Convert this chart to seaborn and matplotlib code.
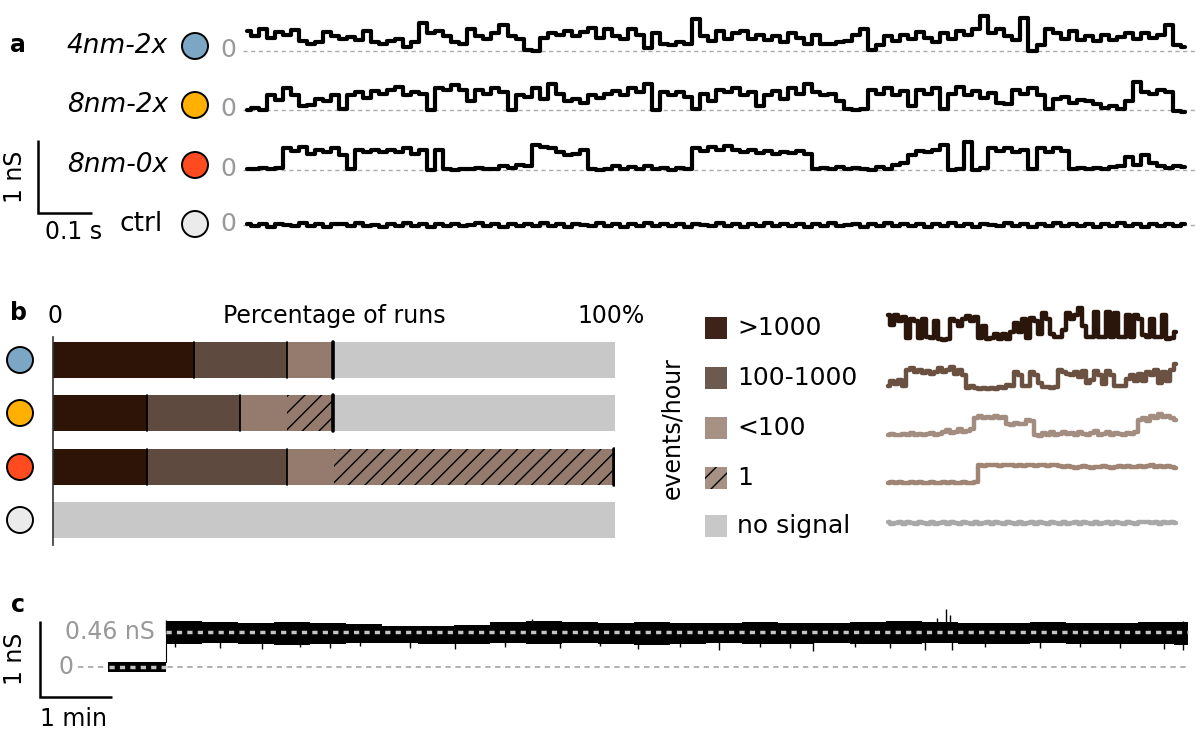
import numpy as np
import matplotlib.pyplot as plt
from matplotlib.patches import Circle, Rectangle
import seaborn as sns

W, H = 1196, 731

# ---------------- panel a : example traces (nS), one value per ~8 px bin
a_labels = ['4nm-2x', '8nm-2x', '8nm-0x', 'ctrl']
a_colors = ['#7ba7c4', '#ffb000', '#ff4b1f', '#ebebeb']
a_duration = 1.745  # seconds shown

trace_4nm_2x = [0.27, 0.20, 0.30, 0.18, 0.26, 0.22, 0.29, 0.14, 0.10, 0.13,
                0.26, 0.20, 0.16, 0.19, 0.15, 0.28, 0.12, 0.10, 0.14, 0.17,
                0.06, 0.12, 0.38, 0.24, 0.28, 0.20, 0.12, 0.10, 0.30, 0.20,
                0.17, 0.24, 0.35, 0.20, 0.17, 0.02, 0.00, 0.18, 0.25, 0.22,
                0.28, 0.20, 0.26, 0.32, 0.18, 0.30, 0.20, 0.17, 0.30, 0.22,
                0.04, 0.25, 0.10, 0.08, 0.12, 0.10, 0.44, 0.20, 0.14, 0.27,
                0.17, 0.24, 0.28, 0.16, 0.22, 0.15, 0.20, 0.13, 0.24, 0.18,
                0.10, 0.22, 0.10, 0.09, 0.12, 0.14, 0.22, 0.30, 0.02, 0.08,
                0.20, 0.14, 0.22, 0.16, 0.26, 0.18, 0.12, 0.24, 0.17, 0.27,
                0.22, 0.30, 0.48, 0.25, 0.30, 0.20, 0.15, 0.45, 0.00, 0.08,
                0.30, 0.24, 0.16, 0.28, 0.15, 0.20, 0.14, 0.22, 0.15, 0.19,
                0.25, 0.16, 0.24, 0.18, 0.22, 0.35, 0.08, 0.06]
trace_8nm_2x = [0.00, 0.03, 0.00, 0.20, 0.14, 0.30, 0.20, 0.05, 0.07, 0.15,
                0.12, 0.20, 0.02, 0.20, 0.24, 0.16, 0.26, 0.22, 0.28, 0.32,
                0.20, 0.25, 0.22, 0.00, 0.30, 0.27, 0.34, 0.28, 0.12, 0.28,
                0.22, 0.30, 0.24, 0.00, 0.20, 0.18, 0.30, 0.15, 0.35, 0.22,
                0.12, 0.15, 0.10, 0.20, 0.16, 0.22, 0.26, 0.20, 0.30, 0.25,
                0.35, 0.00, 0.25, 0.20, 0.24, 0.18, 0.02, 0.22, 0.12, 0.28,
                0.25, 0.30, 0.20, 0.24, 0.06, 0.20, 0.26, 0.15, 0.30, 0.22,
                0.35, 0.25, 0.20, 0.22, 0.12, 0.02, 0.00, 0.02, 0.28, 0.22,
                0.30, 0.20, 0.26, 0.05, 0.28, 0.22, 0.30, 0.02, 0.22, 0.32,
                0.20, 0.26, 0.17, 0.23, 0.10, 0.08, 0.27, 0.22, 0.30, 0.20,
                0.02, 0.15, 0.18, 0.10, 0.14, 0.12, 0.08, 0.03, 0.05, 0.02,
                0.12, 0.38, 0.25, 0.22, 0.28, 0.24, -0.02, -0.03]
trace_8nm_0x = [0.02, 0.01, 0.03, 0.02, 0.03, 0.30, 0.26, 0.32, 0.22, 0.28,
                0.24, 0.30, 0.20, 0.02, 0.28, 0.25, 0.27, 0.24, 0.28, 0.25,
                0.30, 0.22, 0.28, 0.00, 0.28, 0.02, 0.00, 0.02, 0.01, 0.03,
                0.01, 0.02, 0.05, 0.03, 0.07, 0.05, 0.34, 0.32, 0.30, 0.25,
                0.20, 0.22, 0.28, 0.02, 0.00, 0.02, 0.05, 0.02, 0.04, 0.02,
                0.05, 0.01, 0.03, 0.00, 0.03, 0.02, 0.30, 0.26, 0.32, 0.28,
                0.33, 0.27, 0.24, 0.27, 0.23, 0.26, 0.22, 0.25, 0.23, 0.26,
                0.22, 0.02, 0.03, 0.01, 0.04, 0.02, 0.03, 0.01, 0.00, 0.04,
                0.02, 0.07, 0.10, 0.20, 0.26, 0.25, 0.28, 0.34, 0.00, 0.02,
                0.38, 0.00, 0.03, 0.30, 0.26, 0.30, 0.25, 0.28, 0.02, 0.30,
                0.24, 0.30, 0.26, 0.02, 0.03, 0.01, 0.03, 0.02, 0.04, 0.06,
                0.18, 0.07, 0.20, 0.09, 0.06, 0.03, 0.05, 0.04]
trace_ctrl = [0.02, -0.02, 0.01, -0.03, 0.02, 0.00, -0.02, 0.03, -0.01, 0.02,
              -0.03, 0.01, 0.02, -0.02, 0.03, -0.01, 0.00, -0.03, 0.02, -0.01,
              0.03, -0.02, 0.01, -0.03, 0.02, -0.01, 0.02, -0.02, 0.00, 0.03,
              -0.02, 0.01, -0.03, 0.02, -0.01, 0.02, -0.02, 0.03, -0.01, 0.01,
              -0.03, 0.02, 0.00, -0.02, 0.03, -0.01, 0.02, -0.03, 0.01, -0.02,
              0.03, -0.01, 0.02, -0.02, 0.01, -0.03, 0.02, 0.00, -0.02, 0.03,
              -0.01, 0.02, -0.03, 0.01, -0.02, 0.03, -0.01, 0.02, -0.02, 0.01,
              -0.03, 0.02, -0.01, 0.03, -0.02, 0.00, 0.02, -0.03, 0.01, -0.02,
              0.03, -0.01, 0.02, -0.02, 0.01, -0.03, 0.02, -0.01, 0.03, -0.02,
              0.01, -0.03, 0.02, 0.00, -0.02, 0.03, -0.01, 0.02, -0.03, 0.01,
              -0.02, 0.03, -0.01, 0.02, -0.02, 0.01, -0.03, 0.02, -0.01, 0.03,
              -0.02, 0.01, -0.03, 0.02, -0.01, 0.02, -0.02, 0.01]

# ---------------- panel b : outcome of 12 runs per condition
b_categories = ['>1000', '100-1000', '<100', '1', 'no signal']
runs_4nm_2x = [3, 2, 1, 0, 6]
runs_8nm_2x = [2, 2, 1, 1, 6]
runs_8nm_0x = [2, 3, 1, 6, 0]
runs_ctrl = [0, 0, 0, 0, 12]

# legend example traces (nS), ~4 px bins
mini_high = [0.35, 0.22, 0.36, 0.28, 0.33, 0.04, 0.30, 0.27, 0.04, 0.30,
             0.05, 0.04, 0.28, 0.03, 0.02, 0.03, 0.30, 0.27, 0.20, 0.30,
             0.34, 0.28, 0.33, 0.04, 0.20, 0.03, 0.04, 0.10, 0.03, 0.10,
             0.03, 0.12, 0.25, 0.12, 0.30, 0.04, 0.32, 0.28, 0.10, 0.38,
             0.30, 0.10, 0.06, 0.05, 0.15, 0.38, 0.30, 0.35, 0.45, 0.20,
             0.05, 0.06, 0.40, 0.05, 0.06, 0.40, 0.05, 0.38, 0.05, 0.06,
             0.35, 0.05, 0.35, 0.30, 0.08, 0.06, 0.30, 0.05, 0.05, 0.35,
             0.03, 0.04, 0.12]
mini_mid = [0.05, 0.12, 0.08, 0.14, 0.05, 0.27, 0.30, 0.25, 0.28, 0.23,
            0.26, 0.22, 0.25, 0.30, 0.24, 0.27, 0.32, 0.22, 0.28, 0.20,
            0.03, 0.06, 0.03, 0.02, 0.03, 0.02, 0.03, 0.02, 0.04, 0.03,
            0.07, 0.05, 0.24, 0.20, 0.06, 0.05, 0.24, 0.20, 0.10, 0.04,
            0.04, 0.03, 0.04, 0.27, 0.24, 0.22, 0.20, 0.24, 0.18, 0.26,
            0.10, 0.14, 0.26, 0.20, 0.08, 0.26, 0.20, 0.05, 0.06, 0.05,
            0.15, 0.20, 0.12, 0.22, 0.12, 0.25, 0.20, 0.27, 0.10, 0.25,
            0.12, 0.28, 0.36]
mini_low = [0.02, 0.03, 0.01, 0.02, 0.03, 0.02, 0.04, 0.02, 0.03, 0.01,
            0.03, 0.04, 0.02, 0.03, 0.05, 0.08, 0.04, 0.06, 0.10, 0.05,
            0.07, 0.10, 0.25, 0.27, 0.24, 0.26, 0.25, 0.28, 0.24, 0.26,
            0.17, 0.15, 0.18, 0.16, 0.17, 0.22, 0.20, 0.02, 0.00, 0.04,
            0.02, 0.05, 0.02, 0.03, 0.06, 0.03, 0.04, 0.02, 0.05, 0.03,
            0.02, 0.04, 0.07, 0.02, 0.03, 0.05, 0.02, 0.04, 0.03, 0.02,
            0.04, 0.03, 0.05, 0.22, 0.25, 0.20, 0.27, 0.24, 0.30, 0.26,
            0.28, 0.25, 0.22]
mini_one = [0.00, 0.01, 0.00, 0.01, 0.00, 0.00, 0.01, 0.00, 0.01, 0.00,
            0.00, 0.01, 0.00, 0.00, 0.01, 0.00, 0.01, 0.00, 0.00, 0.01,
            0.00, 0.00, 0.01, 0.24, 0.23, 0.24, 0.25, 0.24, 0.23, 0.24,
            0.25, 0.24, 0.23, 0.24, 0.23, 0.25, 0.24, 0.23, 0.24, 0.25,
            0.23, 0.24, 0.24, 0.23, 0.22, 0.23, 0.22, 0.21, 0.22, 0.23,
            0.22, 0.21, 0.22, 0.22, 0.23, 0.22, 0.21, 0.22, 0.23, 0.22,
            0.23, 0.22, 0.22, 0.23, 0.22, 0.23, 0.24, 0.22, 0.23, 0.22,
            0.23, 0.22, 0.21]
mini_none = [0.01, -0.01, 0.00, 0.01, -0.01, 0.01, 0.00, -0.01, 0.01, 0.00,
             -0.01, 0.01, -0.01, 0.00, 0.01, -0.01, 0.01, 0.00, -0.01, 0.01,
             0.00, -0.01, 0.01, -0.01, 0.00, 0.01, -0.01, 0.01, 0.00, -0.01,
             0.01, 0.00, -0.01, 0.01, -0.01, 0.00, 0.01, -0.01, 0.01, 0.00,
             -0.01, 0.01, 0.00, -0.01, 0.01, -0.01, 0.00, 0.01, -0.01, 0.01,
             0.00, -0.01, 0.01, -0.01, 0.00, 0.01, -0.01, 0.01, 0.00, -0.01,
             0.01, 0.00, -0.01, 0.01, 0.02, 0.01, 0.00, 0.01, -0.01, 0.01,
             0.00, 0.01, 0.00]

# ---------------- panel c : long recording, envelope per 0.5 min (nS)
c_open_level = 0.46
c_step_time = 0.8      # min
c_end_time = 15.0      # min
c_closed_upper = 0.065
c_closed_lower = -0.065
c_upper = [0.60, 0.59, 0.58, 0.59, 0.58, 0.57, 0.54, 0.54, 0.55, 0.59,
           0.60, 0.59, 0.58, 0.59, 0.58, 0.58, 0.59, 0.58, 0.58, 0.59,
           0.60, 0.59, 0.58, 0.58, 0.59, 0.58, 0.58, 0.59, 0.59]
c_lower = [0.30, 0.31, 0.30, 0.29, 0.30, 0.31, 0.31, 0.30, 0.30, 0.31,
           0.30, 0.31, 0.30, 0.29, 0.30, 0.31, 0.30, 0.30, 0.31, 0.30,
           0.30, 0.31, 0.30, 0.30, 0.31, 0.30, 0.30, 0.30, 0.29]
c_down_t = [0.93, 1.56, 2.14, 2.67, 3.08, 3.50, 4.19, 4.82, 5.51, 6.28,
            6.83, 7.36, 7.94, 8.49, 9.06, 9.47, 9.79, 10.38, 10.86, 11.35,
            11.72, 12.18, 12.94, 13.50, 14.06, 14.67, 14.93]
c_down_v = [0.26, 0.25, 0.24, 0.26, 0.25, 0.27, 0.25, 0.24, 0.26, 0.25,
            0.27, 0.24, 0.26, 0.22, 0.26, 0.25, 0.21, 0.26, 0.25, 0.23,
            0.22, 0.26, 0.25, 0.26, 0.25, 0.24, 0.22]
c_up_t = [0.81, 5.89, 11.51, 11.64, 11.69, 14.93]
c_up_v = [0.62, 0.63, 0.64, 0.76, 0.68, 0.61]

# colours
bar_colors = ['#2d1407', '#5e4a3f', '#957b6d', '#957b6d', '#c8c8c8']
legend_colors = ['#3e2418', '#6d5a4f', '#a69184', '#a69184', '#c8c8c8']
mini_colors = ['#2a160b', '#6b5142', '#a38d80', '#a08575', '#a8a8a8']
hatches = [None, None, None, '//', None]
zero_grey = '#999999'

sns.set_theme(style='white')
plt.rcParams['font.family'] = ['DejaVu Sans']
plt.rcParams['text.color'] = 'black'
plt.rcParams['hatch.linewidth'] = 1.0
FS = 17

fig = plt.figure(figsize=(W / 100, H / 100), dpi=100)


def px_axes(x0, y0, x1, y1):
    ax = fig.add_axes([x0 / W, 1 - y1 / H, (x1 - x0) / W, (y1 - y0) / H])
    ax.set_facecolor('none')
    return ax


# ---------- panel a
A_X0, A_X1 = 243, 1196
A_PX_PER_S = 542.0     # 0.1 s = 54 px
A_PX_PER_NS = 73.0
a_base_px = [51, 110, 170, 225]
ax_a = px_axes(A_X0, 0, A_X1, 240)
ax_a.set_xlim(0, (A_X1 - A_X0) / A_PX_PER_S)
ax_a.set_ylim(-(240 - a_base_px[0]) / A_PX_PER_NS, a_base_px[0] / A_PX_PER_NS)
ax_a.axis('off')
a_traces = [trace_4nm_2x, trace_8nm_2x, trace_8nm_0x, trace_ctrl]
for i, tr in enumerate(a_traces):
    off = -(a_base_px[i] - a_base_px[0]) / A_PX_PER_NS
    vals = np.array(tr)
    t = (np.arange(len(vals)) + 0.5) * a_duration / len(vals)
    ax_a.axhline(off, xmin=0, xmax=1, color='#aaaaaa', lw=1.0,
                 dashes=(3, 2.5), zorder=1)
    sns.lineplot(x=t, y=vals + off, ax=ax_a, color='black', linewidth=3.0,
                 drawstyle='steps-mid', estimator=None, sort=False,
                 legend=False, zorder=2)

# ---------- panel b bars
ax_b = px_axes(53, 337, 615, 545)
b_rows = [runs_4nm_2x, runs_8nm_2x, runs_8nm_0x, runs_ctrl]
for i, counts in enumerate(b_rows):
    pct = np.array(counts) / sum(counts) * 100
    left = 0
    for k, w in enumerate(pct):
        if w > 0:
            ax_b.barh(i, w, left=left, height=0.675, color=bar_colors[k],
                      hatch=hatches[k], edgecolor='black' if hatches[k] else 'none',
                      linewidth=0)
        if k < 2 and w > 0:
            ax_b.plot([left + w] * 2, [i - 0.337, i + 0.337], color='black', lw=1.3)
        left += w
    colored = pct[:4].sum()
    if colored > 0:
        ax_b.plot([colored - 0.2] * 2, [i - 0.337, i + 0.337], color='black', lw=2.6)
ax_b.set_xlim(0, 100)
ax_b.set_ylim(3.47, -0.43)
ax_b.set_xticks([])
ax_b.set_yticks([])
for s in ['top', 'right', 'bottom']:
    ax_b.spines[s].set_visible(False)
ax_b.spines['left'].set_color('#333333')
ax_b.spines['left'].set_linewidth(1.2)

# ---------- legend mini traces
M_X0, M_X1 = 880, 1185
M_STEP = 4.0
m_base_px = [341, 390, 436, 483, 523]
ax_m = px_axes(M_X0, 300, M_X1, 540)
ax_m.set_xlim(-(886 - M_X0) / M_STEP, (M_X1 - 886) / M_STEP)
ax_m.set_ylim(-(540 - m_base_px[0]) / A_PX_PER_NS, (m_base_px[0] - 300) / A_PX_PER_NS)
ax_m.axis('off')
for i, tr in enumerate([mini_high, mini_mid, mini_low, mini_one, mini_none]):
    off = -(m_base_px[i] - m_base_px[0]) / A_PX_PER_NS
    vals = np.array(tr)
    t = np.arange(len(vals)) + 0.5
    sns.lineplot(x=t, y=vals + off, ax=ax_m, color=mini_colors[i], linewidth=3.2,
                 drawstyle='steps-mid', estimator=None, sort=False, legend=False)

# ---------- panel c
C_X0, C_X1 = 78, 1196
C_T0_PX = 108
C_PX_PER_MIN = 72.0
C_PX_PER_NS = 76.0
C_ZERO_PX = 667
ax_c = px_axes(C_X0, 595, C_X1, 705)
ax_c.set_xlim(-(C_T0_PX - C_X0) / C_PX_PER_MIN, (C_X1 - C_T0_PX) / C_PX_PER_MIN)
ax_c.set_ylim(-(705 - C_ZERO_PX) / C_PX_PER_NS, (C_ZERO_PX - 595) / C_PX_PER_NS)
ax_c.axis('off')
ax_c.plot([ax_c.get_xlim()[0], c_end_time], [0, 0], color='#aaaaaa', lw=1.3,
          dashes=(3, 2.5), zorder=1)
ax_c.fill_between([0, c_step_time], c_closed_lower, c_closed_upper,
                  color='black', lw=0, zorder=2)
t_edges = c_step_time + 0.5 * np.arange(len(c_upper) + 1)
t_edges[-1] = c_end_time
ax_c.fill_between(t_edges, c_lower + [c_lower[-1]], c_upper + [c_upper[-1]],
                  step='post', color='black', lw=0, zorder=2)
ax_c.plot([c_step_time] * 2, [c_closed_upper, c_open_level], color='black', lw=0.8)
ax_c.vlines(c_down_t, c_open_level, c_down_v, color='black', lw=1.0, zorder=2)
ax_c.vlines(c_up_t, c_open_level, c_up_v, color='black', lw=1.0, zorder=2)
ax_c.plot([c_step_time, c_end_time], [c_open_level] * 2, color='#c4c4c4', lw=2.5,
          dashes=(1.5, 1.5), zorder=3)
ax_c.plot([0.02, c_step_time], [0, 0], color='#c4c4c4', lw=2.5,
          dashes=(1.5, 1.5), zorder=3)

# ---------- annotations in pixel space
cv = fig.add_axes([0, 0, 1, 1])
cv.set_xlim(0, W)
cv.set_ylim(H, 0)
cv.axis('off')
cv.set_facecolor('none')

# panel letters
for letter, y in [('a', 45), ('b', 313), ('c', 605)]:
    cv.text(18, y, letter, fontsize=FS, fontweight='bold', ha='center', va='center')

# panel a labels, circles, zeros
for i, lab in enumerate(a_labels):
    yc = a_base_px[i] - 5 if i < 3 else a_base_px[i] - 1
    style = 'normal' if lab == 'ctrl' else 'italic'
    cv.text(168 if lab != 'ctrl' else 163, yc, lab, fontsize=19, style=style,
            ha='right', va='center')
    cv.add_patch(Circle((195, yc), 13, facecolor=a_colors[i], edgecolor='black', lw=1.4))
    cv.text(228, a_base_px[i] - 1, '0', fontsize=18, color=zero_grey,
            ha='center', va='center')

# panel a scale bar
sb_x, sb_y = 38, 213
cv.plot([sb_x, sb_x, sb_x + 0.1 * A_PX_PER_S], [sb_y - A_PX_PER_NS, sb_y, sb_y],
        color='black', lw=1.8, solid_capstyle='butt', solid_joinstyle='miter')
cv.text(15, sb_y - A_PX_PER_NS / 2, '1 nS', fontsize=FS, rotation=90,
        ha='center', va='center')
cv.text(sb_x + 0.05 * A_PX_PER_S + 8, 232, '0.1 s', fontsize=FS, ha='center', va='center')

# panel b labels and circles
cv.text(55, 316, '0', fontsize=FS, ha='center', va='center')
cv.text(334, 316, 'Percentage of runs', fontsize=FS, ha='center', va='center')
cv.text(611, 316, '100%', fontsize=FS, ha='center', va='center')
for i, yc in enumerate([360, 413, 467, 520]):
    cv.add_patch(Circle((20, yc), 13, facecolor=a_colors[i], edgecolor='black', lw=1.4))

# legend
cv.text(672, 428, 'events/hour', fontsize=FS, rotation=90, ha='center', va='center')
for k, (lab, yc) in enumerate(zip(b_categories, [328, 378, 428, 478, 526])):
    cv.add_patch(Rectangle((705, yc - 11), 22, 22, facecolor=legend_colors[k],
                           hatch=hatches[k], edgecolor='black' if hatches[k] else 'none',
                           lw=0))
    cv.text(737, yc, lab, fontsize=18, ha='left', va='center')

# panel c labels and scale bar
cv.text(155, 632, '0.46 nS', fontsize=FS, color=zero_grey, ha='right', va='center')
cv.text(66, 667, '0', fontsize=FS, color=zero_grey, ha='center', va='center')
cb_x, cb_y = 40, 697
cv.plot([cb_x, cb_x, cb_x + C_PX_PER_MIN], [cb_y - C_PX_PER_NS, cb_y, cb_y],
        color='black', lw=1.8, solid_capstyle='butt', solid_joinstyle='miter')
cv.text(15, cb_y - C_PX_PER_NS / 2, '1 nS', fontsize=FS, rotation=90,
        ha='center', va='center')
cv.text(74, 719, '1 min', fontsize=FS, ha='center', va='center')

fig.savefig('out.png', dpi=100)
